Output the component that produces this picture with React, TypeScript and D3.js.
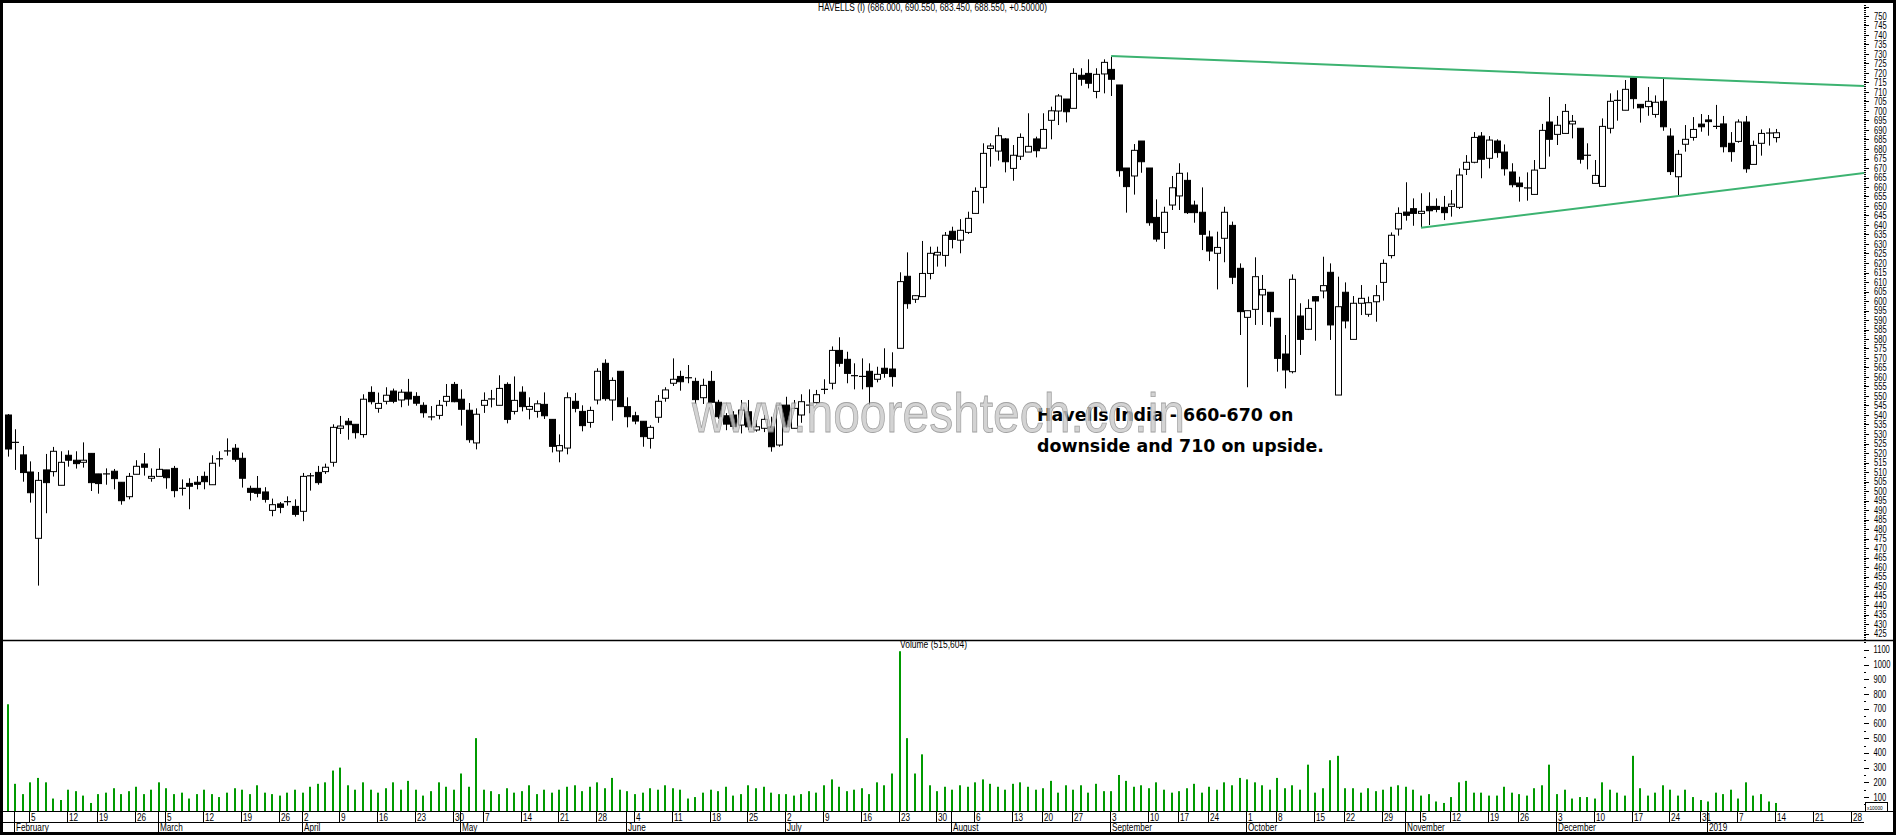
import React from 'react';
import * as d3 from 'd3';

// ---------- DATA ----------
const TITLE = 'HAVELLS (I) (686.000, 690.550, 683.450, 688.550, +0.50000)';
const VOLUME_TITLE = 'Volume (515,604)';
const NOTE_LINES = ['Havells India - 660-670 on', 'downside and 710 on upside.'];
const WATERMARK = 'www.nooreshtech.co.in';

const HOLIDAYS = ['2018-02-13','2018-03-02','2018-03-29','2018-03-30','2018-05-01','2018-08-15','2018-08-22','2018-09-13','2018-09-20','2018-10-02','2018-10-18','2018-11-08','2018-11-23','2018-12-25'];
const FIRST_DAY = '2018-01-31';
const LAST_AXIS_DAY = '2019-01-31';

const opens = [540.0,525.6,519.0,510.0,475.1,511.1,510.2,503.0,518.8,516.2,515.1,519.8,509.0,509.0,510.4,504.6,497.0,508.8,514.2,506.7,
507.7,511.1,511.9,501.4,504.0,504.6,507.7,503.3,517.2,521.1,522.5,517.2,501.4,501.4,499.5,489.8,493.2,494.4,491.9,
489.3,507.7,509.8,510.2,515.1,533.0,536.7,535.1,529.7,551.9,543.5,547.2,552.6,547.9,552.0,549.8,545.1,539.0,539.8,547.2,556.1,
548.3,542.5,525.3,545.1,548.7,545.1,556.1,541.9,552.0,543.0,541.9,545.6,537.7,521.1,522.6,547.2,541.9,536.1,547.9,567.2,547.9,563.0,
544.4,539.6,536.7,527.7,538.8,548.8,556.7,560.3,559.6,557.7,549.1,557.7,546.7,539.6,540.0,534.7,541.7,532.1,533.0,533.8,524.2,
545.2,533.0,540.0,545.2,546.5,553.5,556.7,574.0,569.3,560.7,560.3,563.0,558.8,564.6,564.2,575.1,613.0,600.9,602.3,614.5,624.2,624.0,
636.7,632.0,636.1,646.1,659.8,680.3,678.9,685.3,669.8,676.2,678.4,685.3,680.4,695.1,700.0,706.3,701.4,718.8,719.8,710.3,719.5,
721.9,713.7,670.0,665.8,684.2,670.0,644.0,636.1,650.5,655.3,663.5,650.5,646.7,633.7,625.1,633.0,639.8,617.2,
591.4,595.6,603.2,604.6,590.9,572.1,562.8,592.1,585.1,602.3,605.3,615.1,550.5,604.6,579.8,598.8,593.0,599.6,609.8,623.9,637.9,
646.8,648.6,646.1,649.8,649.8,649.3,649.8,649.3,669.3,673.0,686.8,675.1,684.2,678.4,667.9,662.1,659.5,656.1,669.8,694.2,
687.7,688.2,693.2,690.9,676.7,661.9,660.3,690.9,705.6,700.4,717.4,703.5,702.3,698.2,705.1,686.8,665.4,682.5,686.1,693.1,
695.3,691.9,693.2,683.0,684.0,694.2,671.9,683.0,688.4,686.0];
const highs = [540.5,532.5,523.7,515.6,510.0,519.5,523.2,520.9,521.4,520.9,525.6,519.8,509.0,511.9,511.6,504.6,509.5,516.2,520.0,511.9,
522.5,511.1,513.2,506.1,506.7,507.9,510.2,518.8,520.9,527.7,524.7,520.2,502.8,507.9,502.0,496.0,494.2,497.2,495.6,
509.5,509.5,513.2,514.4,535.1,539.5,538.4,535.1,550.9,555.1,551.8,554.6,553.9,553.5,559.0,552.0,546.7,544.7,547.9,556.3,557.4,
553.5,546.3,543.5,551.9,553.2,560.9,557.2,560.3,555.1,549.3,547.7,551.9,537.7,529.8,551.9,551.6,545.1,544.4,564.6,569.3,559.8,563.0,
549.3,541.7,536.7,534.6,550.5,554.6,569.8,563.3,566.3,559.6,559.1,563.2,548.0,541.0,542.0,547.9,547.9,537.4,540.0,539.1,546.1,
549.6,547.9,550.9,553.5,553.2,558.8,576.1,580.9,573.3,567.2,569.8,567.2,565.4,575.1,573.0,615.1,625.6,603.0,631.6,628.6,628.6,636.3,
639.1,643.1,647.0,659.8,683.0,683.0,691.4,685.8,682.1,688.2,698.8,686.5,698.8,702.3,708.9,706.3,722.5,722.5,727.2,722.5,727.2,
728.6,713.7,670.0,682.6,684.2,670.0,653.5,649.6,665.8,672.5,667.7,652.8,659.8,637.0,636.5,649.6,641.8,619.8,
594.9,623.0,613.7,604.6,590.9,582.1,614.0,598.8,600.9,602.6,623.3,619.8,612.8,609.8,602.6,608.4,602.3,608.4,621.9,636.1,649.3,
662.5,654.0,656.7,657.2,654.0,655.3,658.4,669.8,676.8,688.9,688.9,686.8,685.1,682.4,672.5,665.4,667.7,674.2,693.2,707.4,
697.4,703.7,697.9,690.9,683.0,674.2,696.1,709.3,710.9,716.3,717.4,703.5,712.6,708.2,717.0,690.9,679.5,692.6,696.8,698.4,
697.9,703.2,697.4,688.9,695.6,697.4,684.4,690.3,690.9,690.55];
const lows = [518.1,511.1,504.9,493.9,450.2,488.3,507.6,503.0,512.8,511.8,512.3,500.0,498.6,503.3,500.9,492.8,495.6,508.8,508.1,504.9,
507.7,501.2,496.7,497.6,490.4,500.9,500.9,503.3,512.8,518.6,515.4,501.8,494.9,496.7,493.9,486.7,488.3,492.3,486.5,
484.1,500.2,503.3,509.0,512.8,530.0,527.0,527.6,528.1,545.6,541.2,545.6,546.2,544.1,544.9,544.9,538.6,537.2,537.7,544.6,546.7,
534.4,525.4,521.9,541.1,544.0,545.1,535.6,540.3,541.9,537.7,538.6,537.9,520.3,515.1,519.3,541.4,531.4,533.3,545.6,547.5,537.0,544.4,
533.5,535.1,523.3,522.3,535.9,547.0,555.3,552.8,556.7,545.8,545.8,546.7,538.0,532.0,532.5,530.3,532.1,531.2,531.0,520.7,523.3,
533.8,533.0,535.9,540.9,546.1,551.0,553.5,565.4,556.7,553.5,553.5,545.3,557.2,559.6,554.9,575.1,595.9,599.0,602.3,611.4,618.1,618.1,
627.7,625.1,635.3,646.1,651.4,670.7,673.9,667.7,663.3,674.2,678.4,675.6,680.4,685.1,692.6,694.0,701.4,713.3,711.9,706.7,709.3,
707.9,665.4,646.5,656.0,667.5,639.6,631.2,627.4,647.9,647.9,645.8,641.2,626.8,621.0,606.1,620.4,608.9,582.1,
554.6,587.4,587.4,586.5,562.8,554.0,561.9,571.6,584.7,579.1,601.4,579.5,550.5,585.6,579.8,592.6,591.7,589.1,600.2,622.4,634.4,
642.3,639.6,638.8,640.0,646.7,642.6,644.4,648.4,666.3,672.5,664.6,669.8,675.4,666.0,659.8,652.3,652.8,656.1,669.8,676.0,
682.1,688.2,685.6,672.3,669.3,661.9,660.3,688.2,694.9,700.4,701.2,693.9,697.5,696.5,689.6,666.3,655.4,678.6,684.4,689.1,
687.0,690.5,678.2,673.3,683.3,667.5,671.9,676.5,681.8,683.45];
const closes = [522.1,525.6,509.7,499.1,505.6,504.4,520.9,515.1,516.2,514.4,516.2,504.4,503.9,509.0,506.5,494.9,507.7,513.0,512.5,507.7,
511.4,507.0,500.2,501.4,502.5,503.5,504.9,514.6,516.7,521.1,516.7,506.7,499.3,498.8,495.6,492.8,491.4,494.4,487.7,
507.7,508.3,504.4,512.5,533.5,534.2,534.9,530.7,548.3,547.0,546.1,550.4,547.2,552.0,548.4,546.2,541.2,539.0,545.1,549.8,547.0,
543.0,527.0,540.4,547.7,548.2,554.0,537.7,547.7,544.4,544.5,545.9,539.6,523.5,523.9,549.1,543.5,534.4,542.4,563.0,548.6,558.2,544.4,
539.1,536.8,528.6,533.5,547.2,553.2,558.8,557.5,559.6,548.1,555.6,546.7,539.1,535.2,534.0,542.6,533.8,533.8,537.7,523.3,545.2,
533.8,543.5,547.0,545.2,550.7,553.5,574.0,567.2,561.9,560.7,560.3,554.9,561.4,561.9,560.2,610.2,598.6,602.8,614.5,625.1,625.6,634.6,
632.4,637.2,643.5,657.7,677.7,681.6,687.0,673.3,676.7,686.1,681.4,679.1,690.3,700.1,707.9,699.6,719.8,716.7,714.6,719.3,725.6,
716.7,668.6,660.2,679.3,673.3,641.2,632.6,646.7,659.6,667.2,646.5,646.5,635.1,626.3,628.2,646.7,612.5,594.4,
594.9,612.8,606.1,594.4,569.8,563.7,611.4,579.8,596.1,600.0,608.1,587.4,597.0,589.5,598.8,601.4,599.1,602.8,619.8,634.6,646.1,
645.1,646.1,647.2,647.5,648.2,646.5,651.0,666.3,673.0,686.1,674.6,684.7,678.1,669.6,661.2,660.2,659.5,668.9,689.8,685.1,
692.5,699.8,694.6,674.6,676.7,666.1,691.9,705.1,705.6,711.4,706.5,701.7,705.1,704.6,691.7,668.1,677.2,685.1,690.3,691.7,
694.4,691.9,681.2,678.6,694.2,669.6,681.9,688.2,688.4,688.55];
// volume in units of 10,000 shares
const volumes = [730,190,120,200,230,200,90,80,150,140,110,60,120,130,160,120,140,170,120,150,
200,160,120,130,90,120,150,120,100,130,160,150,120,180,130,120,110,130,150,
130,170,190,200,280,300,180,150,200,150,130,160,200,150,210,150,110,140,200,170,150,
260,170,500,150,140,120,160,130,140,180,120,150,130,150,170,180,140,170,200,160,230,150,
140,120,130,160,150,180,160,150,90,100,130,150,140,170,110,120,180,160,170,130,120,
120,110,120,140,130,180,220,170,140,150,160,120,200,180,260,1090,500,260,390,180,140,170,
150,180,170,200,220,190,170,150,190,200,170,150,160,210,130,180,150,180,130,190,140,
140,250,210,170,180,160,200,150,130,140,160,190,130,170,150,200,180,230,
220,200,180,150,230,160,180,150,320,130,160,350,380,160,160,130,160,140,150,170,180,
170,150,110,120,70,60,100,200,210,130,130,110,110,170,130,120,110,160,180,320,
120,150,90,100,100,90,200,150,130,110,380,160,110,130,180,150,110,150,100,80,
70,130,120,150,90,200,110,120,70,60];

const PRICE_LABELS = d3.range(425, 751, 5);
const VOLUME_LABELS = d3.range(100, 1101, 100);
// trend lines: [slot index, price]
const UPPER_TREND = [[146, 729.0], [246.3, 713.0]];
const LOWER_TREND = [[187, 638.5], [246.3, 667.7]];

// ---------- LAYOUT ----------
const W = 1896, H = 835;
const FRAME = 3;
const PLOT_RIGHT = 1864;
const PRICE_BOTTOM = 640;
const VOL_BASE = 811.8;
const AXIS_TOP = 811.5, AXIS_MID = 822.5, AXIS_BOTTOM = 832;
const GREEN = '#3cb371';
const VOL_GREEN = '#009a00';
const FONT = 'Liberation Sans, Arial, sans-serif';

function tradingDays() {
  const fmt = d3.utcFormat('%Y-%m-%d');
  const parse = d3.utcParse('%Y-%m-%d');
  const all = d3.utcDay.range(parse(FIRST_DAY)!, d3.utcDay.offset(parse(LAST_AXIS_DAY)!, 1));
  return all.filter(d => d.getUTCDay() !== 0 && d.getUTCDay() !== 6 && !HOLIDAYS.includes(fmt(d)));
}

const Txt = ({ x, y, size = 10, sx = 0.76, anchor = 'start', children, ...rest }: any) => (
  <text transform={`translate(${x},${y}) scale(${sx},1)`} fontSize={size} textAnchor={anchor} {...rest}>{children}</text>
);

export default function App() {
  const days = tradingDays();
  const x = d3.scaleLinear().domain([0, 246]).range([7.8, 7.8 + 246 * 7.557]);
  const y = d3.scaleLinear().domain([425, 750]).range([633.5, 16]);
  const yv = d3.scaleLinear().domain([0, 1100]).range([VOL_BASE, VOL_BASE - 1100 * 0.1473]);

  const monthFmt = d3.utcFormat('%B');
  const weekStarts: number[] = [];
  const monthStarts: number[] = [];
  days.forEach((d, i) => {
    if (i === 0) return;
    const p = days[i - 1];
    if (+d3.utcMonday.floor(d) !== +d3.utcMonday.floor(p)) weekStarts.push(i);
    if (d.getUTCMonth() !== p.getUTCMonth()) monthStarts.push(i);
  });
  const visible = (i: number) => x(i) < PLOT_RIGHT - 2;

  const candles = opens.map((o, i) => {
    const c = closes[i], hi = highs[i], lo = lows[i];
    const cx = Math.round(x(i)) + 0.5;
    const up = c >= o;
    const yt = y(Math.max(o, c)), yb = y(Math.min(o, c));
    const flat = Math.abs(yb - yt) < 1.2;
    return (
      <g key={i}>
        <line x1={cx} x2={cx} y1={y(hi)} y2={y(lo)} stroke="#000" strokeWidth={1} />
        {flat ? (
          <line x1={cx - 3.5} x2={cx + 3.5} y1={(yt + yb) / 2} y2={(yt + yb) / 2} stroke="#000" strokeWidth={1.2} />
        ) : (
          <rect x={cx - 3} y={yt} width={6} height={yb - yt} fill={up ? '#fff' : '#000'} stroke="#000" strokeWidth={1} />
        )}
      </g>
    );
  });

  const volBars = volumes.map((v, i) => {
    const cx = Math.round(x(i));
    return <rect key={i} x={cx - 1} y={yv(v)} width={2} height={VOL_BASE - yv(v)} fill={VOL_GREEN} />;
  });

  const line = d3.line<number[]>().x(d => x(d[0])).y(d => y(d[1]));

  return (
    <>
      <style>{`html,body{margin:0;padding:0;overflow:hidden;background:#000}`}</style>
      <svg width={W} height={H} style={{ display: 'block' }} fontFamily={FONT}>
        <rect x={0} y={0} width={W} height={H} fill="#000" />
        <rect x={FRAME} y={FRAME} width={W - 2 * FRAME} height={AXIS_BOTTOM - FRAME} fill="#fff" />

        <defs>
          <clipPath id="plotClip"><rect x={FRAME} y={FRAME} width={PLOT_RIGHT - FRAME} height={PRICE_BOTTOM - FRAME} /></clipPath>
          <clipPath id="volClip"><rect x={FRAME} y={PRICE_BOTTOM} width={PLOT_RIGHT - FRAME} height={VOL_BASE - PRICE_BOTTOM} /></clipPath>
        </defs>

        {/* title */}
        <Txt x={818} y={11} size={10} sx={1} textLength={229} lengthAdjust="spacingAndGlyphs">{TITLE}</Txt>

        {/* price panel */}
        <g clipPath="url(#plotClip)">
          {candles}
          <path d={line(UPPER_TREND as any)!} stroke={GREEN} strokeWidth={2} fill="none" />
          <path d={line(LOWER_TREND as any)!} stroke={GREEN} strokeWidth={2} fill="none" />
          {NOTE_LINES.map((t, i) => (
            <text key={i} x={1037} y={421 + i * 31} fontFamily="DejaVu Sans, Verdana, sans-serif" fontWeight="bold" fontSize={17.4}>{t}</text>
          ))}
          <text x={692} y={432} fontSize={56} fontFamily={FONT} textLength={493} lengthAdjust="spacingAndGlyphs"
            fill="#c9c9c9" stroke="#8a8a8a" strokeWidth={0.8} opacity={0.8}>{WATERMARK}</text>
        </g>

        {/* price axis */}
        {d3.range(422, 757, 1).map(p => (
          <line key={'m' + p} x1={PLOT_RIGHT} x2={PLOT_RIGHT + (p % 5 === 0 ? 5 : 2)} y1={Math.round(y(p)) + 0.5} y2={Math.round(y(p)) + 0.5} stroke="#000" strokeWidth={1} />
        ))}
        {PRICE_LABELS.map(p => (
          <Txt key={p} x={1874} y={y(p) + 3.6} size={10} sx={0.76}>{p}</Txt>
        ))}

        {/* panel divider */}
        <line x1={FRAME} x2={W - FRAME} y1={PRICE_BOTTOM + 0.5} y2={PRICE_BOTTOM + 0.5} stroke="#000" strokeWidth={1.5} />

        {/* volume panel */}
        <Txt x={900} y={648} size={10} sx={1} textLength={67} lengthAdjust="spacingAndGlyphs">{VOLUME_TITLE}</Txt>
        <g clipPath="url(#volClip)">{volBars}</g>
        {d3.range(50, 1151, 50).map(v => (
          <line key={'v' + v} x1={PLOT_RIGHT} x2={PLOT_RIGHT + (v % 100 === 0 ? 5 : 2)} y1={Math.round(yv(v)) + 0.5} y2={Math.round(yv(v)) + 0.5} stroke="#000" strokeWidth={1} />
        ))}
        {VOLUME_LABELS.map(v => (
          <Txt key={v} x={1873.5} y={yv(v) + 3.6} size={10} sx={0.76}>{v}</Txt>
        ))}
        <rect x={1865.5} y={802.5} width={22} height={9} fill="#fff" stroke="#000" strokeWidth={1} />
        <Txt x={1867} y={809.5} size={6} sx={0.8}>x10000</Txt>

        {/* date axis */}
        <line x1={FRAME} x2={W - FRAME} y1={AXIS_TOP} y2={AXIS_TOP} stroke="#000" strokeWidth={1} />
        <line x1={FRAME} x2={PLOT_RIGHT} y1={AXIS_MID} y2={AXIS_MID} stroke="#000" strokeWidth={1} />
        {Array.from(new Set([...weekStarts, ...monthStarts])).filter(visible).map(i => (
          <line key={'s' + i} x1={Math.round(x(i)) - 0.5} x2={Math.round(x(i)) - 0.5} y1={AXIS_TOP} y2={AXIS_MID} stroke="#000" strokeWidth={1} />
        ))}
        {weekStarts.filter(visible).map(i => (
          <Txt key={'w' + i} x={Math.round(x(i)) + 1} y={821} size={10.5} sx={0.78}>{days[i].getUTCDate()}</Txt>
        ))}
        {monthStarts.filter(visible).map(i => (
          <g key={'mo' + i}>
            <line x1={Math.round(x(i)) - 0.5} x2={Math.round(x(i)) - 0.5} y1={AXIS_MID} y2={AXIS_BOTTOM} stroke="#000" strokeWidth={1} />
            <Txt x={Math.round(x(i)) + 1} y={831} size={10.5} sx={0.78}>{days[i].getUTCMonth() === 0 ? d3.utcFormat('%Y')(days[i]) : monthFmt(days[i])}</Txt>
          </g>
        ))}
      </svg>
    </>
  );
}
